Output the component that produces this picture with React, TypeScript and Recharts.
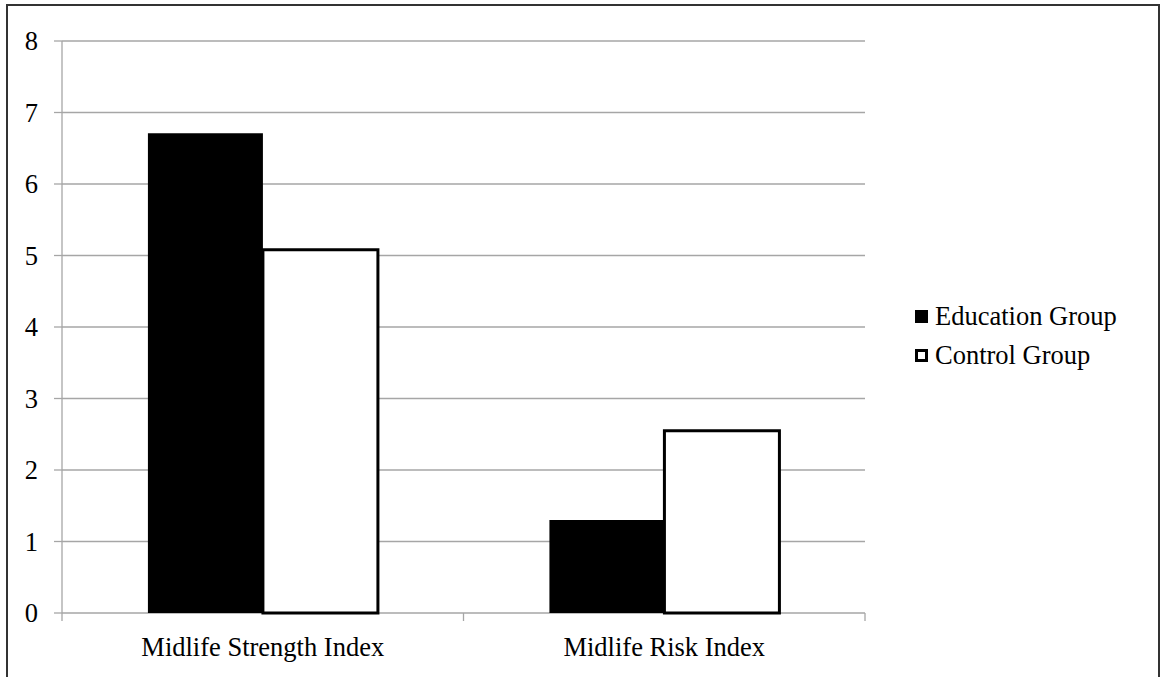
import React from "react";
import { BarChart, Bar, XAxis, YAxis, CartesianGrid, Legend } from "recharts";

const categories = ["Midlife Strength Index", "Midlife Risk Index"];
const educationGroup = [6.71, 1.3];
const controlGroup = [5.08, 2.55];
const yTicks = [0, 1, 2, 3, 4, 5, 6, 7, 8];
const legendOrder = ["education", "control"];

const data = categories.map((name, i) => ({
  name,
  education: educationGroup[i],
  control: controlGroup[i],
}));

const FONT = '"Liberation Serif", "Times New Roman", serif';
const FONT_SIZE = 26.5;
const GRID = "#a6a6a6";
const TICK_LEN = 8;

// Category label plus tick marks on the band edges (Excel-style)
function CategoryTick({ x, y, payload, visibleTicksCount }: any) {
  const half = payload?.offset ?? 0;
  const last = payload?.index === visibleTicksCount - 1;
  return (
    <g>
      <line x1={x - half} x2={x - half} y1={y} y2={y + TICK_LEN} stroke={GRID} strokeWidth={1.3} />
      {last && (
        <line x1={x + half} x2={x + half} y1={y} y2={y + TICK_LEN} stroke={GRID} strokeWidth={1.3} />
      )}
      <text
        x={x}
        y={y + 24}
        dy="0.71em"
        textAnchor="middle"
        fontFamily={FONT}
        fontSize={FONT_SIZE}
        fill="#000"
      >
        {payload?.value}
      </text>
    </g>
  );
}

function GroupLegend({ payload }: any) {
  const items = [...(payload ?? [])].sort(
    (a: any, b: any) => legendOrder.indexOf(a.dataKey) - legendOrder.indexOf(b.dataKey)
  );
  return (
    <div style={{ fontFamily: FONT, fontSize: FONT_SIZE, color: "#000" }}>
      {items.map((p: any) => {
        const filled = p.dataKey === "education";
        return (
          <div
            key={p.dataKey}
            style={{ display: "flex", alignItems: "center", height: 39, whiteSpace: "nowrap" }}
          >
            <span
              style={{
                display: "inline-block",
                width: 13,
                height: 13,
                boxSizing: "border-box",
                background: filled ? "#000" : "#fff",
                border: filled ? "none" : "3px solid #000",
                marginRight: 7,
              }}
            />
            {p.value}
          </div>
        );
      })}
    </div>
  );
}

export default function App() {
  return (
    <div
      style={{
        position: "fixed",
        left: 0,
        top: 0,
        width: 1160,
        height: 677,
        overflow: "hidden",
        background: "#fff",
      }}
    >
      <div
        style={{
          position: "absolute",
          left: 6,
          top: 4,
          width: 1154,
          height: 700,
          border: "2px solid #333",
          boxSizing: "border-box",
        }}
      />
      <div style={{ position: "absolute", left: 0, top: 0 }}>
        <BarChart
          width={1160}
          height={677}
          data={data}
          margin={{ top: 41, right: 295, bottom: 0, left: 0 }}
          barCategoryGap="21.4%"
          barGap={0}
        >
          {/* the zero gridline doubles as the x axis line, beneath the bars */}
          <CartesianGrid vertical={false} stroke={GRID} strokeWidth={1.3} />
          <XAxis
            dataKey="name"
            height={64}
            axisLine={false}
            tickLine={false}
            tickSize={0}
            tickMargin={0}
            interval={0}
            tick={<CategoryTick />}
          />
          <YAxis
            domain={[0, 8]}
            ticks={yTicks}
            width={62}
            tickSize={8}
            tickMargin={16}
            axisLine={{ stroke: GRID, strokeWidth: 1.3 }}
            tickLine={{ stroke: GRID, strokeWidth: 1.3 }}
            tick={{ fontFamily: FONT, fontSize: FONT_SIZE, fill: "#000" }}
          />
          <Legend
            layout="vertical"
            align="center"
            verticalAlign="middle"
            content={<GroupLegend />}
            wrapperStyle={{ left: 915, top: 297, width: 240 }}
          />
          <Bar dataKey="education" name="Education Group" fill="#000" isAnimationActive={false} />
          <Bar
            dataKey="control"
            name="Control Group"
            fill="#fff"
            stroke="#000"
            strokeWidth={3}
            isAnimationActive={false}
          />
        </BarChart>
      </div>
    </div>
  );
}
